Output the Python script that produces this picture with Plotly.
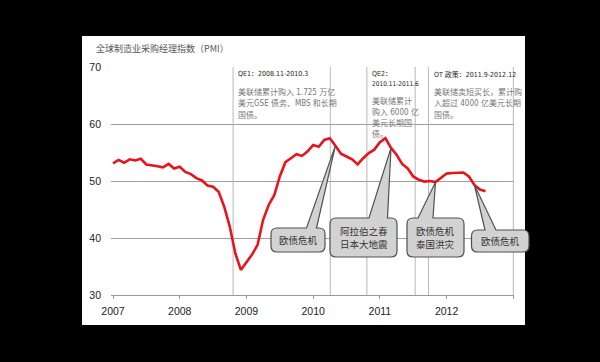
import pandas as pd
import plotly.graph_objects as go

# ---------------- data ----------------
title_text = "全球制造业采购经理指数（PMI）"
start_month = "2007-01"
pmi = [53.1, 53.7, 53.2, 53.8, 53.6, 53.9, 52.9, 52.8, 52.6, 52.4, 53.0, 52.2,
       52.5, 51.6, 51.2, 50.5, 50.1, 49.2, 49.0, 48.1, 45.5, 42.0, 37.3, 34.4,
       35.8, 37.1, 38.8, 43.2, 45.8, 47.5, 50.8, 53.3, 54.0, 54.7, 54.4, 55.2,
       56.3, 56.0, 57.2, 57.5, 56.2, 54.8, 54.3, 53.8, 52.9, 54.0, 54.9, 55.5,
       56.8, 57.5, 55.8, 54.6, 53.0, 52.2, 50.8, 50.2, 49.9, 50.0, 49.8, 50.6,
       51.3, 51.4, 51.4, 51.5, 50.8, 49.3, 48.5, 48.2]
year_ticks = [2007, 2008, 2009, 2010, 2011, 2012, 2013]
year_labels = ["2007", "2008", "2009", "2010", "2011", "2012", ""]
y_ticks = [30, 40, 50, 60, 70]
event_lines = [2008.80, 2010.257, 2010.805, 2011.529, 2011.728, 2013.0]

qe_headers = ["QE1：2008.11-2010.3", "QE2：", "OT 政策：2011.9-2012.12"]
qe1_body = ["美联储累计购入 1.725 万亿", "美元GSE 债务、MBS 和长期", "国债。"]
qe2_sub = "2010.11-2011.6"
qe2_body = ["美联储累计", "购入 6000 亿", "美元长期国", "债。"]
ot_body = ["美联储卖短买长，累计购", "入超过 4000 亿美元长期", "国债。"]

callout_texts = [["欧债危机"], ["阿拉伯之春", "日本大地震"], ["欧债危机", "泰国洪灾"], ["欧债危机"]]
callout_tip_month = [40, 50, 58, 65]

# ---------------- layout geometry ----------------
W, H = 600, 362
ML, MR, MT, MB = 111, 86, 67, 67
PW, PH = W - ML - MR, H - MT - MB
X0, X1 = 2006.97, 2013.01
Y0, Y1 = 30, 70


def dx(p):   # pixel x -> data x
    return X0 + (p - ML) / PW * (X1 - X0)


def dy(p):   # pixel y -> data y
    return Y1 - (p - MT) / PH * (Y1 - Y0)


def fx(x):   # data x -> paper
    return (x - X0) / (X1 - X0)


def fy(y):
    return (y - Y0) / (Y1 - Y0)


months = pd.period_range(start_month, periods=len(pmi), freq="M")
xm = [m.year + (m.month - 1) / 12 for m in months]

fig = go.Figure()
fig.add_trace(go.Scatter(x=xm, y=pmi, mode="lines",
                         line=dict(color="#e8141c", width=2.6), hoverinfo="skip"))

shapes = []
# white card
shapes.append(dict(type="rect", xref="paper", yref="paper",
                   x0=(82 - ML) / PW, x1=(525 - ML) / PW,
                   y0=(MT + PH - 325) / PH, y1=(MT + PH - 36) / PH,
                   fillcolor="white", line=dict(width=0), layer="below"))
for ex in event_lines:
    shapes.append(dict(type="line", xref="x", yref="y", x0=ex, x1=ex, y0=30, y1=70,
                       line=dict(color="#b8b8b8", width=1), layer="below"))

# callouts: boxes in pixel estimates (left, right, top, bottom), wedge base (left,right)
box_px = [(271, 325, 228, 252), (330, 397, 218, 257), (407, 464, 218, 257), (471.5, 529, 230, 252)]
base_px = [(306.5, 316.5), (369, 387.5), (418, 433), (485, 496)]
r = 6
rx, ry = r / PW, r / PH
annotations = []
for (l, rr, t, b), (w0, w1), m, lines in zip(box_px, base_px, callout_tip_month, callout_texts):
    L, R, T, B = fx(dx(l)), fx(dx(rr)), fy(dy(t)), fy(dy(b))
    W0, W1 = fx(dx(w0)), fx(dx(w1))
    TX, TY = fx(xm[m]), fy(pmi[m])
    path = (f"M{L+rx},{T} L{W0},{T} L{TX},{TY} L{W1},{T} L{R-rx},{T} "
            f"Q{R},{T} {R},{T-ry} L{R},{B+ry} Q{R},{B} {R-rx},{B} "
            f"L{L+rx},{B} Q{L},{B} {L},{B+ry} L{L},{T-ry} Q{L},{T} {L+rx},{T} Z")
    shapes.append(dict(type="path", xref="paper", yref="paper", path=path,
                       fillcolor="#d2d2d2", line=dict(color="#505050", width=1.2),
                       layer="above"))
    cy = (t + b) / 2
    n = len(lines)
    for k, txt in enumerate(lines):
        yy = cy + (k - (n - 1) / 2) * 13.5
        annotations.append(dict(x=dx((l + rr) / 2), y=dy(yy), xref="x", yref="y",
                                text=txt, showarrow=False, xanchor="center", yanchor="middle",
                                font=dict(family="Noto Sans CJK SC", size=9.5, color="#333")))

narrow = "Liberation Sans Narrow, Arial Narrow, DejaVu Sans Condensed, Liberation Sans, Noto Sans CJK SC"
hdr_font = dict(family=narrow, size=7, color="#222")
body_font = dict(family=narrow, size=8, color="#777")


def txt(px_x, px_y, s, font):
    annotations.append(dict(x=dx(px_x), y=dy(px_y), xref="x", yref="y", text=s,
                            showarrow=False, xanchor="left", yanchor="middle", font=font))


txt(236, 74, qe_headers[0], hdr_font)
for k, s in enumerate(qe1_body):
    txt(236, 92 + 11.3 * k, s, body_font)
txt(370, 74, qe_headers[1], hdr_font)
txt(370, 84, qe2_sub, dict(hdr_font, size=6.5))
for k, s in enumerate(qe2_body):
    txt(370, 101 + 11 * k, s, body_font)
txt(432, 74, qe_headers[2], hdr_font)
for k, s in enumerate(ot_body):
    txt(432, 91.5 + 11.7 * k, s, body_font)

annotations.append(dict(x=(94 - ML) / PW, y=(MT + PH - 48) / PH, xref="paper", yref="paper",
                        text=title_text, showarrow=False, xanchor="left", yanchor="middle",
                        font=dict(family="Noto Sans CJK SC", size=9, color="#555")))

fig.update_layout(
    width=W, height=H,
    margin=dict(l=ML, r=MR, t=MT, b=MB, pad=0),
    paper_bgcolor="black", plot_bgcolor="white",
    showlegend=False,
    shapes=shapes, annotations=annotations,
    font=dict(family="Liberation Sans, Arial", size=11, color="#222"),
    xaxis=dict(range=[X0, X1], tickvals=year_ticks, ticktext=year_labels,
               showgrid=False, zeroline=False, showline=True, linecolor="#999", linewidth=1,
               ticks="outside", ticklen=3, tickcolor="#999", ticklabelstandoff=3,
               tickfont=dict(size=10.5, color="#222"), automargin=False, fixedrange=True),
    yaxis=dict(range=[Y0, Y1], tickvals=y_ticks, showgrid=True, gridcolor="#a0a0a0",
               gridwidth=1, zeroline=False, showline=False, ticks="",
               ticklabelstandoff=9, tickfont=dict(size=10.5, color="#222"),
               automargin=False, fixedrange=True),
)

fig.write_html("out.html", config={"displayModeBar": False},
               post_script="document.body.style.margin='0';document.body.style.background='black';")
